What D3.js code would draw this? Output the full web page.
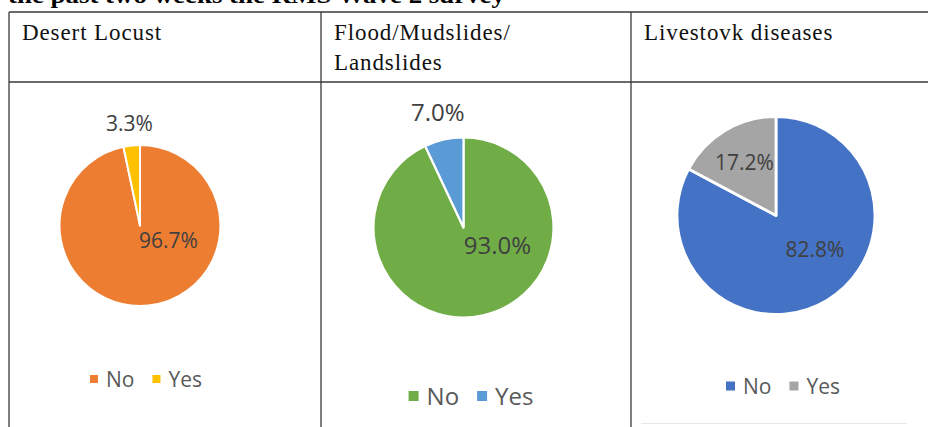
<!DOCTYPE html>
<html>
<head>
<meta charset="utf-8">
<script src="https://cdn.jsdelivr.net/npm/d3@7"></script>
<style>
  html, body { margin: 0; padding: 0; background: #fff; }
  svg { display: block; }
</style>
</head>
<body>
<svg id="chart" width="928" height="427"></svg>
<script>
// Hazards reported in the past two weeks
const topics = [["Desert Locust"], ["Flood/Mudslides/", "Landslides"], ["Livestovk diseases"]];
const categories = ["No", "Yes"];
const noValues = [96.7, 93.0, 82.8];
const yesValues = [3.3, 7.0, 17.2];
const noColors = ["#ED7D31", "#70AD47", "#4472C4"];
const yesColors = ["#FFC000", "#5B9BD5", "#A5A5A5"];
const caption = "the past two weeks the RMS Wave 2 survey";

// Per-panel layout of the embedded pie charts
const layout = [
  { cx: 140,   cy: 225.5, r: 80.5, font: 21, yesR: 1.28, noAngle: 117.8, noR: 0.40,
    legendX: 146, legendY: 379, legendFont: 21, square: 8, sep: 2 },
  { cx: 463.5, cy: 227.5, r: 90,   font: 24, yesR: 1.31, noAngle: 117.2, noR: 0.425,
    legendX: 471, legendY: 396, legendFont: 24, square: 10, sep: 2.2 },
  { cx: 776,   cy: 215.5, r: 99,   font: 21, yesR: 0.62, noAngle: 131,   noR: 0.52,
    legendX: 783, legendY: 386, legendFont: 21, square: 9, sep: 2.8 }
];

const svg = d3.select("#chart");
svg.append("rect").attr("width", 928).attr("height", 427).attr("fill", "#fff");

// Heading line above the table, mostly cut off at the top
svg.append("text")
  .attr("x", 8).attr("y", 2.5)
  .attr("font-family", "Liberation Serif")
  .attr("font-weight", "bold")
  .attr("font-size", 24)
  .attr("textLength", 497)
  .attr("lengthAdjust", "spacingAndGlyphs")
  .attr("fill", "#000")
  .text(caption);

// Table grid
const colX = [9, 321, 631, 940];
const rowTop = 12, headerBottom = 82;
const grid = svg.append("g").attr("stroke", "#3a3a3a").attr("stroke-width", 1.3).attr("fill", "none");
grid.append("line").attr("x1", colX[0]).attr("x2", 928).attr("y1", rowTop).attr("y2", rowTop);
grid.append("line").attr("x1", colX[0]).attr("x2", 928).attr("y1", headerBottom).attr("y2", headerBottom);
colX.slice(0, 3).forEach(x => {
  grid.append("line").attr("x1", x).attr("x2", x).attr("y1", rowTop).attr("y2", 427);
});

// Header cells
topics.forEach((lines, i) => {
  const t = svg.append("text")
    .attr("font-family", "Liberation Serif")
    .attr("font-size", 23)
    .attr("letter-spacing", 0.9)
    .attr("fill", "#111");
  lines.forEach((ln, j) => {
    t.append("tspan").attr("x", colX[i] + 13).attr("y", 40 + j * 30).text(ln);
  });
});

const fmt = v => d3.format(".1f")(v) + "%";
const pie = d3.pie().sort(null).value(d => d.value);
const rad = deg => deg * Math.PI / 180;

topics.forEach((_, i) => {
  const L = layout[i];
  const data = [
    { key: categories[0], value: noValues[i], color: noColors[i] },
    { key: categories[1], value: yesValues[i], color: yesColors[i] }
  ];
  const arcs = pie(data);
  const arc = d3.arc().innerRadius(0).outerRadius(L.r);
  const g = svg.append("g").attr("transform", `translate(${L.cx},${L.cy})`);

  g.selectAll("path").data(arcs).join("path")
    .attr("d", arc)
    .attr("fill", d => d.data.color)
    .attr("stroke", "#fff")
    .attr("stroke-width", L.sep)
    .attr("stroke-linejoin", "round");

  // Data labels
  arcs.forEach((a, k) => {
    let ang, rr;
    if (k === 1) { ang = (a.startAngle + a.endAngle) / 2; rr = L.yesR * L.r; }
    else { ang = rad(L.noAngle); rr = L.noR * L.r; }
    g.append("text")
      .attr("x", Math.sin(ang) * rr)
      .attr("y", -Math.cos(ang) * rr + 0.357 * L.font)
      .attr("text-anchor", "middle")
      .attr("font-family", "Open Sans")
      .attr("font-size", L.font)
      .attr("fill", "#404040")
      .text(fmt(a.data.value));
  });

  // Legend
  const lg = svg.append("g");
  let x = 0;
  const gap = 8, itemGap = 18;
  data.forEach((d, k) => {
    lg.append("rect")
      .attr("x", x).attr("y", -L.square / 2)
      .attr("width", L.square).attr("height", L.square)
      .attr("fill", d.color);
    x += L.square + gap;
    const t = lg.append("text")
      .attr("x", x).attr("y", 0.357 * L.legendFont)
      .attr("font-family", "Open Sans")
      .attr("font-size", L.legendFont)
      .attr("fill", "#595959")
      .text(d.key);
    x += t.node().getComputedTextLength();
    if (k < data.length - 1) x += itemGap;
  });
  lg.attr("transform", `translate(${L.legendX - x / 2},${L.legendY})`);
});

// Faint chart frame edge in the third cell
svg.append("line")
  .attr("x1", 641).attr("x2", 907).attr("y1", 423.5).attr("y2", 423.5)
  .attr("stroke", "#e8e8e8").attr("stroke-width", 1);
</script>
</body>
</html>
